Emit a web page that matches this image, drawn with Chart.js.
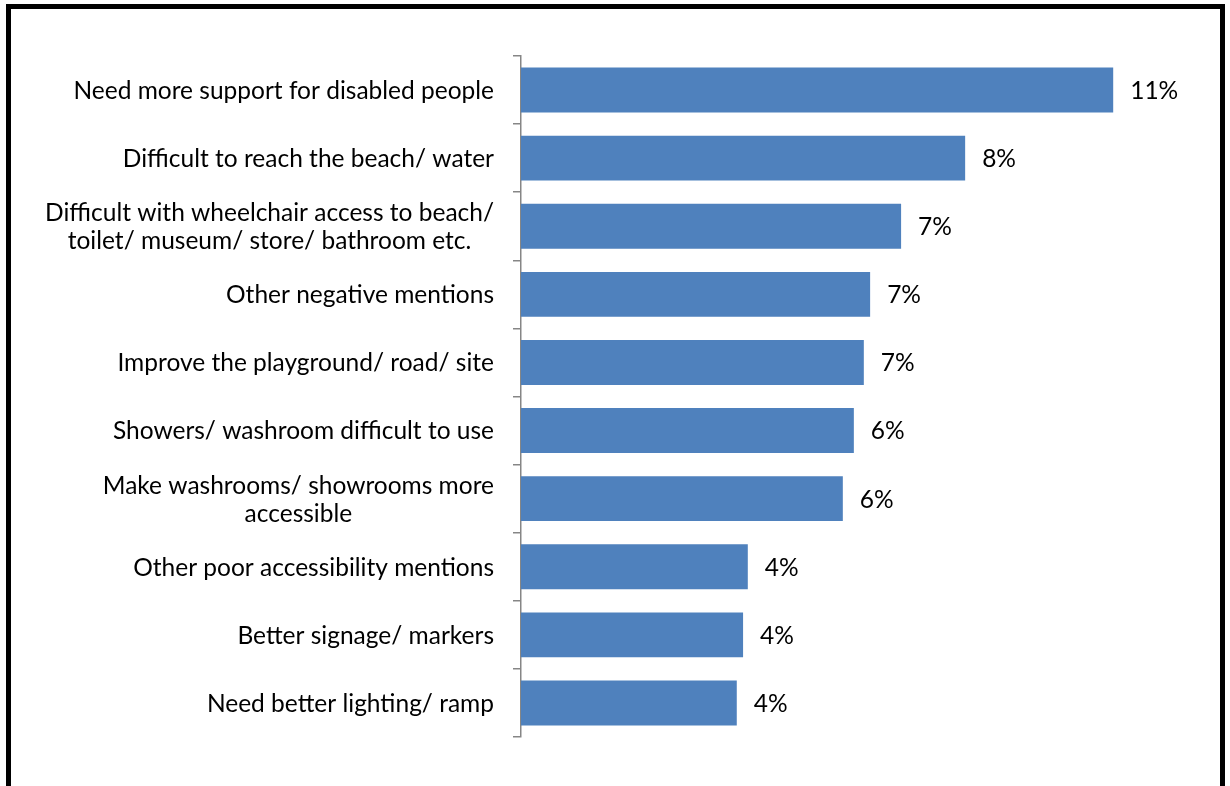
<!DOCTYPE html>
<html>
<head>
<meta charset="utf-8">
<script src="https://cdn.jsdelivr.net/npm/chart.js@4.4.1/dist/chart.umd.min.js"></script>
<style>
    html, body { margin: 0; padding: 0; background: #fff; }
    #wrap { position: relative; width: 1230px; height: 786px; overflow: hidden; }
    #chart { position: absolute; left: 0; top: 0; }
    #frame {
        position: absolute; left: 6px; top: 4px; width: 1209px; height: 778px;
        border-left: 5px solid #000; border-top: 5px solid #000; border-right: 5px solid #000;
        border-bottom: 2px solid #444; pointer-events: none;
    }
</style>
</head>
<body>
<div id="wrap">
    <canvas id="chart" width="1230" height="786"></canvas>
    <div id="frame"></div>
</div>
<script>
// Categories (multi-line labels are arrays)
const categories = [
    'Need more support for disabled people',
    'Difficult to reach the beach/ water',
    ['Difficult with wheelchair access to beach/', 'toilet/ museum/ store/ bathroom etc.'],
    'Other negative mentions',
    'Improve the playground/ road/ site',
    'Showers/ washroom difficult to use',
    ['Make washrooms/ showrooms more', 'accessible'],
    'Other poor accessibility mentions',
    'Better signage/ markers',
    'Need better lighting/ ramp'
];

// Percent values
const values = [11.28, 8.46, 7.24, 6.65, 6.53, 6.34, 6.13, 4.32, 4.23, 4.11];

const barColor = '#4F81BD';
const axisColor = '#868686';
const textFont = '24.5px Lato, "Open Sans", sans-serif';

// Draws category labels (block right-aligned, lines centred) and value labels
const labelPlugin = {
    id: 'labelPlugin',
    afterDatasetsDraw(chart) {
        const ctx = chart.ctx;
        const yScale = chart.scales.y;
        const meta = chart.getDatasetMeta(0);
        ctx.save();
        ctx.font = textFont;
        ctx.fillStyle = '#000';
        ctx.textBaseline = 'middle';
        const lineH = 28;
        const rightEdge = yScale.right - 27;

        categories.forEach(function(cat, i) {
            const lines = Array.isArray(cat) ? cat : [cat];
            const yc = yScale.getPixelForTick(i) + 1;
            const widths = lines.map(l => ctx.measureText(l).width);
            const blockW = Math.max.apply(null, widths);
            ctx.textAlign = 'center';
            lines.forEach(function(line, j) {
                const y = yc + (j - (lines.length - 1) / 2) * lineH;
                ctx.fillText(line, rightEdge - blockW / 2, y);
            });
        });

        ctx.textAlign = 'left';
        meta.data.forEach(function(bar, i) {
            ctx.fillText(Math.round(values[i]) + '%', bar.x + 17, bar.y + 1);
        });
        ctx.restore();
    }
};

const ctx = document.getElementById('chart').getContext('2d');
new Chart(ctx, {
    type: 'bar',
    data: {
        labels: categories,
        datasets: [{
            data: values,
            backgroundColor: barColor,
            borderWidth: 0,
            barPercentage: 0.66,
            categoryPercentage: 1
        }]
    },
    options: {
        indexAxis: 'y',
        responsive: false,
        animation: false,
        layout: { padding: { top: 56, bottom: 49, right: 79, left: 0 } },
        plugins: { legend: { display: false }, tooltip: { enabled: false } },
        scales: {
            x: { display: false, min: 0, max: 12 },
            y: {
                afterFit: function(scale) { scale.width = 521; },
                ticks: { display: false },
                grid: {
                    offset: true,
                    drawOnChartArea: false,
                    drawTicks: true,
                    tickLength: 8,
                    color: axisColor,
                    lineWidth: 1.5
                },
                border: { display: true, color: axisColor, width: 1.5 }
            }
        }
    },
    plugins: [labelPlugin]
});
</script>
</body>
</html>
